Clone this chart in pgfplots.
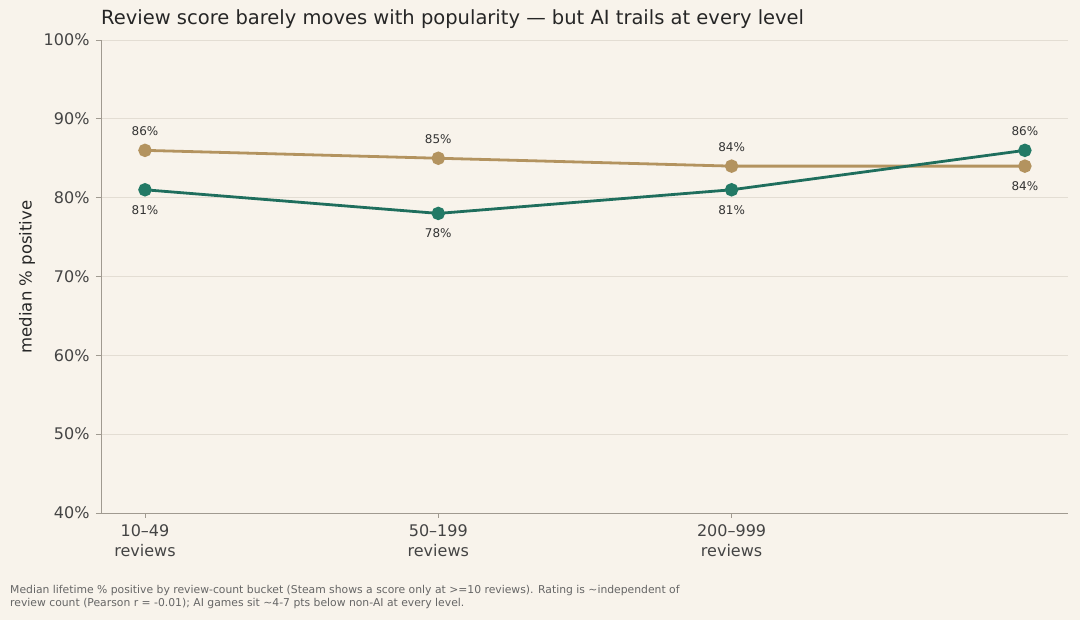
\documentclass[border=0pt]{standalone}
\usepackage{fontspec}
\setmainfont{DejaVu Sans}
\usepackage{pgfplots}
\pgfplotsset{compat=1.18}
\definecolor{bg}{HTML}{F8F3EB}
\definecolor{gold}{HTML}{B3935F}
\definecolor{teal}{HTML}{1F6E5D}
\definecolor{tealm}{HTML}{237A66}
\definecolor{gridc}{HTML}{E3DDD3}
\definecolor{axc}{HTML}{A09A90}
\definecolor{tickc}{HTML}{444444}
\pgfplotsset{lbl/.style={draw=none, mark=none, point meta=y,
  nodes near coords={\pgfmathprintnumber{\pgfplotspointmeta}\%},
  every node near coord/.style={font=\fontsize{12}{14}\selectfont, text=black!80, anchor=center, yshift=#1}}}
\begin{document}
\begin{tikzpicture}[x=1pt,y=1pt]
\fill[bg] (-101,-107) rectangle (979,513);
\useasboundingbox (-101,-107) rectangle (979,513);
\begin{axis}[
  at={(0,0)}, anchor=south west,
  scale only axis, width=967pt, height=473pt,
  xmin=-0.15, xmax=3.147, ymin=40, ymax=100,
  axis lines*=left,
  axis line style={draw=axc, line width=0.9pt, -},
  xtick={0,1,2},
  xticklabels={{10--49\\reviews},{50--199\\reviews},{200--999\\reviews}},
  x tick label style={align=center, font=\fontsize{16}{20}\selectfont, text=tickc, yshift=-3pt},
  ytick={40,50,...,100},
  yticklabel={\pgfmathprintnumber{\tick}\%},
  y tick label style={font=\fontsize{16}{19}\selectfont, text=tickc, xshift=-3pt},
  /pgf/number format/assume math mode=true,
  tick align=outside, major tick length=5pt,
  tick style={draw=axc, line width=0.9pt},
  xtick pos=left, ytick pos=left,
  ymajorgrids, grid style={draw=gridc, line width=0.8pt},
  clip=false,
]
% non-AI
\addplot[gold, line width=2.8pt, mark=*, mark size=5.3pt, mark options={fill=gold, draw=gold}]
  coordinates {(0,86) (1,85) (2,84) (3,84)};
% AI
\addplot[teal, line width=2.8pt, mark=*, mark size=5.3pt, mark options={fill=tealm, draw=tealm}]
  coordinates {(0,81) (1,78) (2,81) (3,86)};
% labels
\addplot[lbl=19pt] coordinates {(0,86) (1,85) (2,84)};
\addplot[lbl=-20pt] coordinates {(3,84)};
\addplot[lbl=-20pt] coordinates {(0,81) (1,78) (2,81)};
\addplot[lbl=19pt] coordinates {(3,86)};
\end{axis}
\node[anchor=base west, font=\fontsize{19.5}{22}\selectfont, text=black!85, inner sep=0pt] at (0,488) {Review score barely moves with popularity — but AI trails at every level};
\node[rotate=90, font=\fontsize{16.5}{19}\selectfont, text=black!85] at (-74,236) {median \% positive};
\node[anchor=base west, font=\fontsize{10.8}{13}\selectfont, text=black!60, align=left, inner sep=0pt] at (-91,-81) {Median lifetime \% positive by review-count bucket (Steam shows a score only at >=10 reviews). Rating is \textasciitilde independent of};
\node[anchor=base west, font=\fontsize{10.8}{13}\selectfont, text=black!60, align=left, inner sep=0pt] at (-91,-94) {review count (Pearson r = -0.01); AI games sit \textasciitilde 4-7 pts below non-AI at every level.};
\end{tikzpicture}
\end{document}
